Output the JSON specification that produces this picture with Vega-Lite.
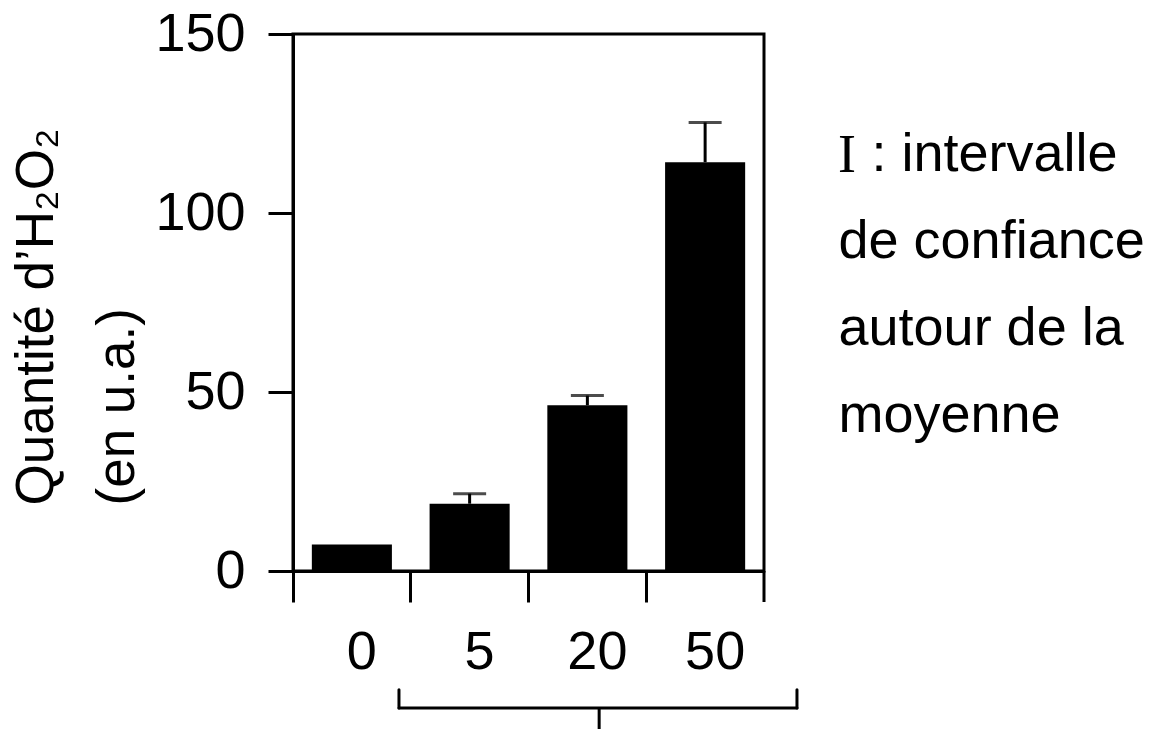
{
  "$schema": "https://vega.github.io/schema/vega-lite/v6.json",
  "autosize": "none",
  "padding": {"left": 293, "top": 34, "right": 391, "bottom": 158},
  "width": 471,
  "height": 537,
  "background": "white",
  "title": {
    "text": "I",
    "font": "Liberation Serif",
    "fontSize": 54,
    "fontWeight": "normal",
    "color": "black",
    "anchor": "start",
    "frame": "group",
    "align": "left",
    "baseline": "alphabetic",
    "offset": 0,
    "dx": 545,
    "dy": 219
  },
  "config": {
    "font": "Liberation Sans",
    "view": {"stroke": "black", "strokeWidth": 3},
    "axis": {
      "grid": false,
      "labelColor": "black",
      "labelFontSize": 54,
      "labelPadding": 23,
      "tickColor": "black",
      "tickWidth": 3,
      "domainColor": "black",
      "domainWidth": 3,
      "titleColor": "black",
      "titleFontSize": 54,
      "titleFontWeight": "normal",
      "labelFlush": false,
      "labelOverlap": false
    }
  },
  "resolve": {"axis": {"y": "independent"}},
  "data": {
    "values": [
      {"conc": "0", "value": 7.4},
      {"conc": "5", "value": 18.8, "upper": 21.6},
      {"conc": "20", "value": 46.3, "upper": 49.0},
      {"conc": "50", "value": 114.2, "upper": 125.3}
    ]
  },
  "layer": [
    {
      "mark": {"type": "bar", "color": "black", "width": {"band": 0.68}},
      "encoding": {
        "x": {
          "field": "conc",
          "type": "nominal",
          "scale": {"domain": ["0", "5", "20", "50"], "paddingInner": 0, "paddingOuter": 0},
          "axis": {
            "bandPosition": 0,
            "labelOffset": 10,
            "labelAngle": 0,
            "tickSize": 31,
            "title": ["de confiance", "autour de la", "moyenne"],
            "titleX": 545,
            "titleY": -314,
            "titleAlign": "left",
            "titleBaseline": "alphabetic",
            "titleAngle": 0,
            "titleLineHeight": 87
          }
        },
        "y": {
          "field": "value",
          "type": "quantitative",
          "scale": {"domain": [0, 150], "nice": false},
          "axis": {
            "values": [0, 50, 100, 150],
            "tickSize": 25,
            "title": ["Quantité d’H₂O₂", "(en u.a.)"],
            "titleFontSize": 53,
            "titleAngle": 270,
            "titleAlign": "left",
            "titleBaseline": "alphabetic",
            "titleX": -241,
            "titleY": 471,
            "titleLineHeight": 81
          }
        }
      }
    },
    {
      "transform": [{"filter": "datum.upper != null"}],
      "mark": {"type": "rule", "color": "black", "strokeWidth": 3},
      "encoding": {
        "x": {"field": "conc", "type": "nominal"},
        "y": {
          "field": "value",
          "type": "quantitative",
          "axis": {
            "orient": "right",
            "domain": false,
            "ticks": false,
            "labels": false,
            "title": ": intervalle",
            "titleX": 107,
            "titleY": 136,
            "titleAlign": "left",
            "titleBaseline": "alphabetic",
            "titleAngle": 0
          }
        },
        "y2": {"field": "upper"}
      }
    },
    {
      "transform": [{"filter": "datum.upper != null"}],
      "mark": {"type": "tick", "color": "black", "size": 33, "thickness": 3, "orient": "horizontal"},
      "encoding": {
        "x": {"field": "conc", "type": "nominal"},
        "y": {"field": "upper", "type": "quantitative", "axis": null}
      }
    },
    {
      "data": {"values": [{}]},
      "mark": {"type": "rule", "color": "black", "strokeWidth": 3},
      "encoding": {
        "x": {"datum": "50", "type": "nominal", "bandPosition": 1},
        "y": {"datum": 0, "type": "quantitative", "axis": null},
        "y2": {"datum": -8.66}
      }
    },
    {
      "data": {"values": [{}]},
      "mark": {"type": "rule", "color": "black", "strokeWidth": 3, "strokeCap": "round"},
      "encoding": {
        "x": {"datum": "5", "type": "nominal", "bandPosition": -0.1},
        "x2": {"datum": "50", "bandPosition": 1.28},
        "y": {"datum": -38.3, "type": "quantitative", "axis": null}
      }
    },
    {
      "data": {"values": [{}]},
      "mark": {"type": "rule", "color": "black", "strokeWidth": 3, "strokeCap": "round"},
      "encoding": {
        "x": {"datum": "5", "type": "nominal", "bandPosition": -0.1},
        "y": {"datum": -33.2, "type": "quantitative", "axis": null},
        "y2": {"datum": -38.3}
      }
    },
    {
      "data": {"values": [{}]},
      "mark": {"type": "rule", "color": "black", "strokeWidth": 3, "strokeCap": "round"},
      "encoding": {
        "x": {"datum": "50", "type": "nominal", "bandPosition": 1.28},
        "y": {"datum": -33.2, "type": "quantitative", "axis": null},
        "y2": {"datum": -38.3}
      }
    },
    {
      "data": {"values": [{}]},
      "mark": {"type": "rule", "color": "black", "strokeWidth": 3},
      "encoding": {
        "x": {"datum": "20", "type": "nominal", "bandPosition": 0.6},
        "y": {"datum": -38.3, "type": "quantitative", "axis": null},
        "y2": {"datum": -46}
      }
    }
  ]
}
